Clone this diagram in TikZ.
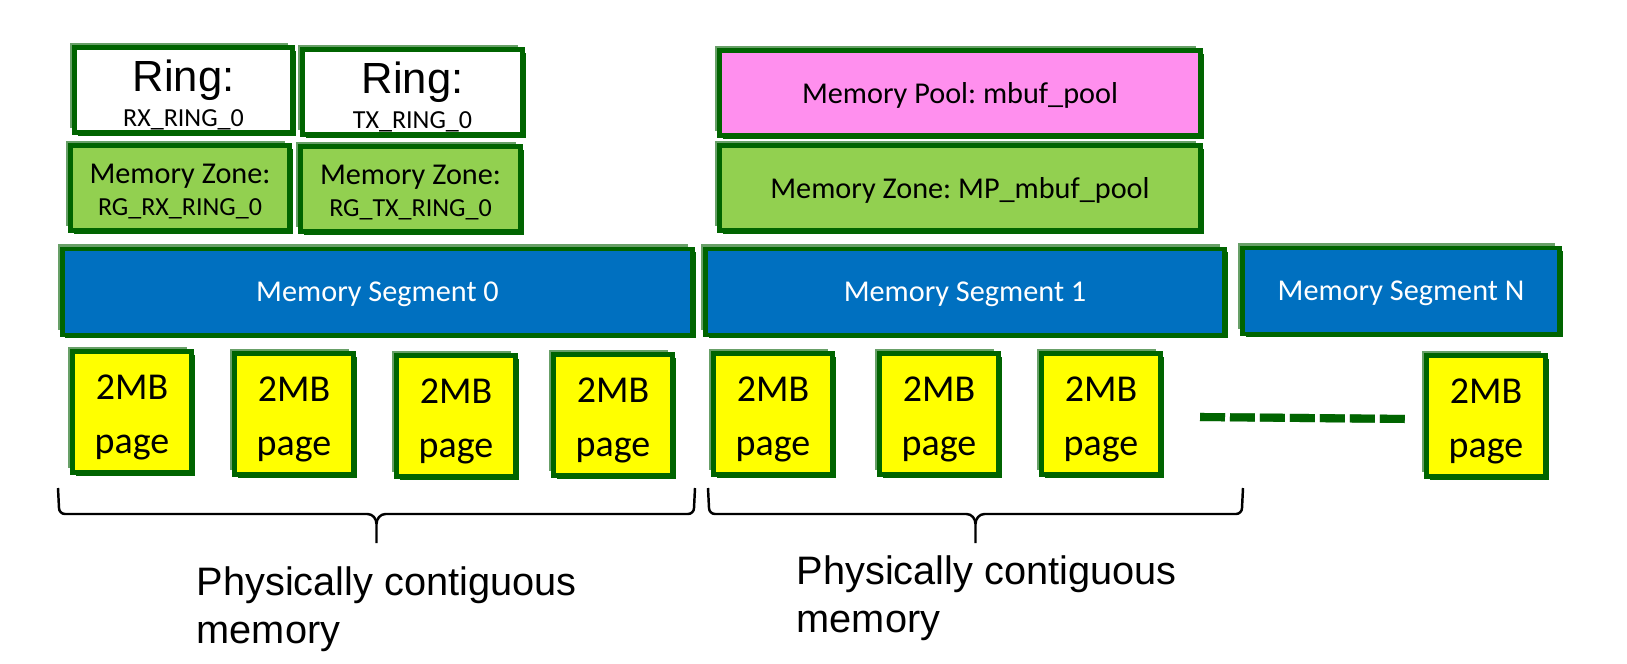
\documentclass[tikz,border=0pt]{standalone}
\usepackage{fontspec}
\newfontfamily\clearfont{Carlito}
\newfontfamily\arialfont{Liberation Sans}
\usetikzlibrary{shadows,calc}
\definecolor{boxgreen}{RGB}{0,100,0}
\definecolor{shadegreen}{RGB}{104,160,104}
\definecolor{zonegreen}{RGB}{146,208,80}
\definecolor{poolpink}{RGB}{255,143,238}
\definecolor{segblue}{RGB}{0,112,192}
\definecolor{pageyellow}{RGB}{255,255,0}
\begin{document}
\begin{tikzpicture}[
    x=0.01cm, y=-0.01cm,
    every node/.style={font=\clearfont\frenchspacing\fontsize{8.6}{9}\selectfont, inner sep=0pt},
    caja/.style={draw=boxgreen, line width=1.4pt, align=center,
        general shadow={fill=boxgreen, shadow xshift=0.9pt, shadow yshift=-0.9pt},
        general shadow={fill=shadegreen, shadow xshift=-1.3pt, shadow yshift=1.3pt}},
    anillo/.style={caja, fill=white, minimum width=2.18cm, minimum height=0.85cm},
    zona/.style={caja, fill=zonegreen, minimum height=0.85cm},
    pool/.style={caja, fill=poolpink, minimum height=0.85cm, text depth=0pt},
    segmento/.style={caja, fill=segblue, text=white, minimum height=0.86cm, text depth=0pt},
    pagina/.style={caja, fill=pageyellow, minimum width=1.19cm, minimum height=1.21cm,
        font=\clearfont\fontsize{10.8}{12.3}\selectfont},
    llave/.style={draw, line width=0.7pt},
    texto/.style={align=left, anchor=north west,
        font=\arialfont\fontsize{11.3}{13.6}\selectfont}
]
\useasboundingbox (0,0) rectangle (1627,664);
% Rings
\node[anillo] (ringRX) at (183.5,90) {{\arialfont\fontsize{12.4}{12}\selectfont\rule{0pt}{12pt}Ring:}\\[1pt]{\fontsize{7.4}{8}\selectfont RX\_RING\_0}};
\node[anillo, minimum width=2.2cm] (ringTX) at (412.5,92) {{\arialfont\fontsize{12.4}{12}\selectfont\rule{0pt}{12pt}Ring:}\\[1pt]{\fontsize{7.4}{8}\selectfont TX\_RING\_0}};
% Memory zones
\node[zona, minimum width=2.19cm] (zoneRX) at (180,188) {\rule{0pt}{7.5pt}Memory Zone:\\{\fontsize{7.4}{8}\selectfont RG\_RX\_RING\_0}};
\node[zona, minimum width=2.2cm] (zoneTX) at (410.5,189) {\rule{0pt}{7.5pt}Memory Zone:\\{\fontsize{7.4}{8}\selectfont RG\_TX\_RING\_0}};
% Memory pool
\node[pool, minimum width=4.81cm] (pool) at (960,93) {Memory Pool: mbuf\_pool};
\node[zona, minimum width=4.81cm, text depth=0pt] (zoneMP) at (960,188) {Memory Zone: MP\_mbuf\_pool};
% Segments
\node[segmento, minimum width=6.3cm] (seg0) at (377.5,292) {Memory Segment 0};
\node[segmento, minimum width=5.19cm] (seg1) at (965,292) {Memory Segment 1};
\node[segmento, minimum width=3.17cm] (segN) at (1401,291) {Memory Segment N};
% Pages
\node[pagina] (p1) at (132,412) {\rule{0pt}{10.2pt}2MB\\[3pt]page};
\node[pagina] (p2) at (294,414) {\rule{0pt}{10.2pt}2MB\\[3pt]page};
\node[pagina] (p3) at (456,416) {\rule{0pt}{10.2pt}2MB\\[3pt]page};
\node[pagina] (p4) at (613,415) {\rule{0pt}{10.2pt}2MB\\[3pt]page};
\node[pagina] (p5) at (773,414) {\rule{0pt}{10.2pt}2MB\\[3pt]page};
\node[pagina] (p6) at (939,414) {\rule{0pt}{10.2pt}2MB\\[3pt]page};
\node[pagina] (p7) at (1101,414) {\rule{0pt}{10.2pt}2MB\\[3pt]page};
\node[pagina] (pN) at (1486,416) {\rule{0pt}{10.2pt}2MB\\[3pt]page};
\draw[shadegreen, line width=2.3pt, dash pattern=on 7.1pt off 1.42pt, yshift=0.8pt]
    ([xshift=0.37cm, yshift=-0.03cm]p7.east) -- ([xshift=-0.15cm, yshift=-0.03cm]pN.west);
\draw[boxgreen, line width=2.3pt, dash pattern=on 7.1pt off 1.42pt]
    ([xshift=0.37cm, yshift=-0.03cm]p7.east) -- ([xshift=-0.15cm, yshift=-0.03cm]pN.west);
% Braces
\coordinate (b0l) at (58,488);
\coordinate (b0r) at (695,488);
\coordinate (b0t) at (376.5,543);
\coordinate (b1l) at (708,488);
\coordinate (b1r) at (1243,488);
\coordinate (b1t) at (975.5,543);
\draw[llave] (b0l) -- ++(1,20) to[out=-90,in=180] ++(6,6) -- ($(b0t)+(-9,-29)$)
    to[out=0,in=90] ($(b0t)+(0,-19)$) -- (b0t);
\draw[llave] (b0r) -- ++(-1,20) to[out=-90,in=0] ++(-6,6) -- ($(b0t)+(9,-29)$)
    to[out=180,in=90] ($(b0t)+(0,-19)$);
\draw[llave] (b1l) -- ++(1,20) to[out=-90,in=180] ++(6,6) -- ($(b1t)+(-9,-29)$)
    to[out=0,in=90] ($(b1t)+(0,-19)$) -- (b1t);
\draw[llave] (b1r) -- ++(-1,20) to[out=-90,in=0] ++(-6,6) -- ($(b1t)+(9,-29)$)
    to[out=180,in=90] ($(b1t)+(0,-19)$);
% Labels
\node[texto] (cont0) at (196,566) {Physically contiguous\\memory};
\node[texto] (cont1) at (796,555) {Physically contiguous\\memory};
\end{tikzpicture}
\end{document}
